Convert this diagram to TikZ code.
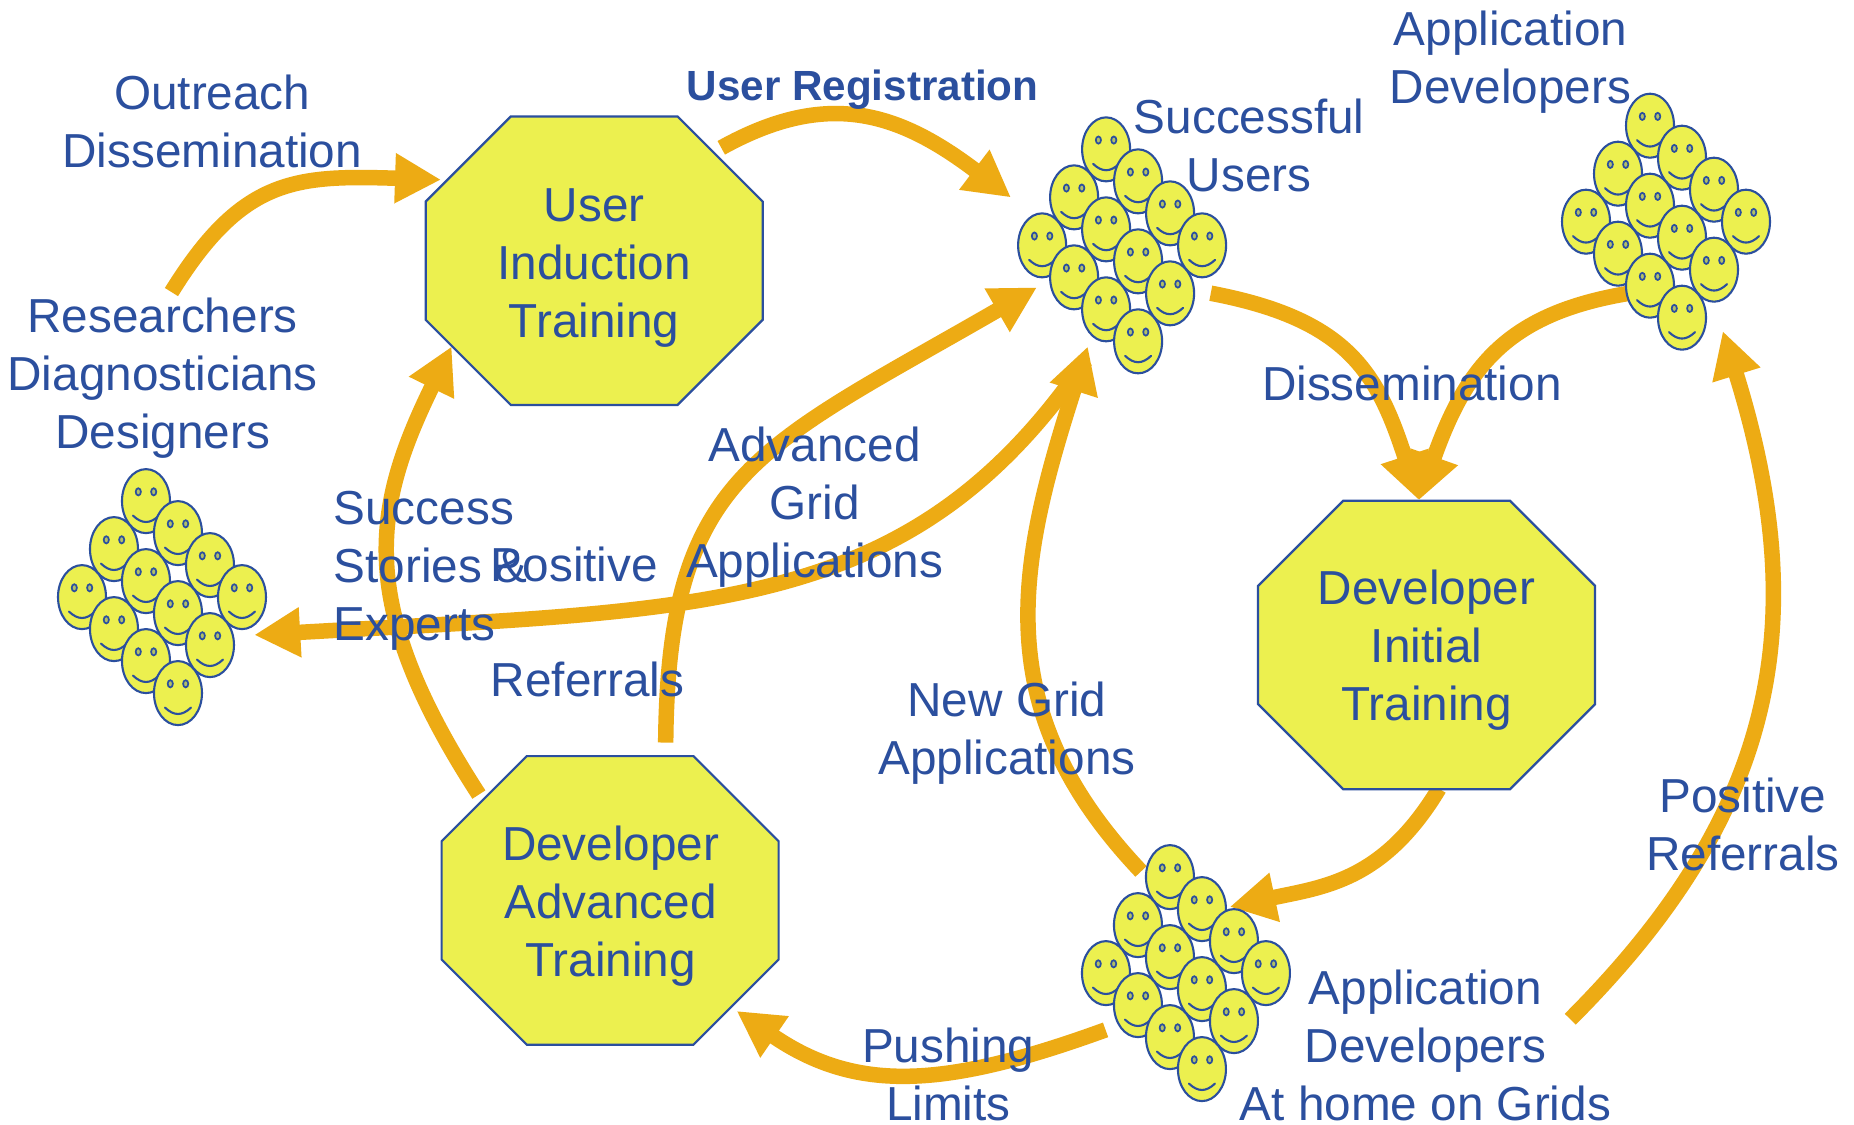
\documentclass[tikz,border=0pt]{standalone}
\usepackage{fontspec}
\setmainfont{Liberation Sans}
\usetikzlibrary{arrows.meta}
\definecolor{flowc}{HTML}{EDAB14}
\definecolor{inkc}{HTML}{2B4F9E}
\definecolor{fillc}{HTML}{ECF04F}
\tikzset{
  flow/.style={draw=flowc,line width=15.5pt,-{Triangle[length=46pt,width=47pt,fill=flowc,color=flowc]},line join=round},
  label/.style={text=inkc,font=\fontsize{47.7}{58}\selectfont,align=center,inner sep=0pt},
  labelL/.style={label,align=left},
  octa/.style={draw=inkc,fill=fillc,line width=2.2pt,line join=miter},
  face/.style={draw=inkc,fill=fillc,line width=2.1pt},
  eye/.style={draw=inkc,fill=fillc!70!inkc,line width=1.7pt},
  smile/.style={draw=inkc,line width=2.1pt,line cap=round}
}
\newcommand{\oneface}[2]{%
  \begin{scope}[shift={(#1,#2)}]
    \path[face] (0,0) ellipse [x radius=24pt,y radius=32pt];
    \path[eye] (-7.7pt,9.3pt) ellipse [x radius=2.6pt,y radius=3.6pt];
    \path[eye] (7.7pt,9.3pt) ellipse [x radius=2.6pt,y radius=3.6pt];
    \path[smile] (-13pt,-14.5pt) .. controls (-4pt,-23pt) and (4pt,-23pt) .. (13pt,-14.5pt);
  \end{scope}}
\newcommand{\facegroup}[3]{%
  \begin{scope}[shift={(#2,#3)}]
    \foreach \fx/\fy in {-1/-6,1/-4,3/-2,5/0,-3/-3,-1/-1,1/1,3/3,-5/0,-3/2,-1/4,1/6}{%
      \oneface{13.53*\fx}{13.53*\fy}}
    \coordinate (#1) at (0,0);
  \end{scope}}
\newcommand{\octagon}[3]{% name, cx, cy
  \path[octa] (#2-70.5,#3-122) -- (#2+70.5,#3-122) -- (#2+142.5,#3-50) -- (#2+142.5,#3+50)
    -- (#2+70.5,#3+122) -- (#2-70.5,#3+122) -- (#2-142.5,#3+50) -- (#2-142.5,#3-50) -- cycle;}
\begin{document}
\begin{tikzpicture}[x=1.1824pt,y=-1.1824pt]
\useasboundingbox (0,0) rectangle (1568,951.45);
\fill[white] (0,0) rectangle (1568,951.45);
% free ends
\coordinate (outreachStart) at (145,247);
\coordinate (userIn) at (373,152);
\coordinate (userOut) at (610,125);
\coordinate (succInA) at (855,167);
\coordinate (succOut) at (1024,248);
\coordinate (initIn) at (1200,423);
\coordinate (appOut) at (1378,248);
\coordinate (initOut) at (1217,667);
\coordinate (homeIn) at (1040,767);
\coordinate (homeOutA) at (935,871);
\coordinate (advIn) at (623,855);
\coordinate (advOutA) at (405,672);
\coordinate (userInB) at (382,293);
\coordinate (advOutB) at (563,628);
\coordinate (succInB) at (877,243);
\coordinate (succOutB) at (918,305);
\coordinate (resIn) at (215,537);
\coordinate (homeOutB) at (965,737);
\coordinate (succInC) at (920,293);
\coordinate (homeOutC) at (1328,862);
\coordinate (appIn) at (1457,280);
% connectors
\draw[flow] (outreachStart) .. controls (205,150) and (250,148) .. (userIn);
\draw[flow] (userOut) .. controls (700,75) and (760,95) .. (succInA);
\draw[flow] (succOut) .. controls (1140,270) and (1165,315) .. (initIn);
\draw[flow] (appOut) .. controls (1275,265) and (1240,310) .. (initIn);
\draw[flow] (initOut) .. controls (1170,745) and (1120,750) .. (homeIn);
\draw[flow] (homeOutA) .. controls (800,920) and (725,925) .. (advIn);
\draw[flow] (advOutA) .. controls (300,510) and (315,430) .. (userInB);
\draw[flow] (advOutB) .. controls (565,400) and (640,380) .. (succInB);
\draw[flow] (succOutB) .. controls (770,520) and (600,515) .. (resIn);
\draw[flow] (homeOutB) .. controls (835,600) and (860,480) .. (succInC);
\draw[flow] (homeOutC) .. controls (1500,690) and (1535,530) .. (appIn);
% octagons
\octagon{user}{502.5}{220.5}
\octagon{init}{1206.5}{545.5}
\octagon{adv}{516}{761.5}
% faces
\facegroup{succ}{949}{207.5}
\facegroup{appdev}{1409}{187.5}
\facegroup{res}{137}{505}
\facegroup{home}{1003}{823}
% labels
\node[label] (tOutreach) at (179.5,102.5) {Outreach\\Dissemination};
\node[label,font=\fontsize{42.2}{50}\bfseries\selectfont] (tReg) at (729.5,76) {User Registration};
\node[label] (tSucc) at (1056.5,123) {Successful\\Users};
\node[label] (tApp) at (1277.5,53) {Application\\Developers};
\node[label] (user) at (502.5,227) {User\\Induction\\Training};
\node[label] (tRes) at (137.5,320) {Researchers\\Diagnosticians\\Designers};
\node[label] (tDiss) at (1194,324) {Dissemination};
\node[label] (tGrid) at (689,429) {Advanced\\Grid\\Applications};
\node[labelL,anchor=west] (tStories) at (282,483) {Success\\Stories \&\\Experts};
\node[labelL,anchor=west] (tPosA) at (415,477) {Positive};
\node[labelL,anchor=west] (tRefA) at (415,575) {Referrals};
\node[label] (init) at (1206.5,550) {Developer\\Initial\\Training};
\node[label] (tNew) at (851.5,620) {New Grid\\Applications};
\node[label] (tPos) at (1474,697.5) {Positive\\Referrals};
\node[label] (adv) at (516.5,766) {Developer\\Advanced\\Training};
\node[label] (tHome) at (1205.5,884) {Application\\Developers\\At home on Grids};
\node[label] (tPush) at (802,908.5) {Pushing\\Limits};
\end{tikzpicture}
\end{document}
